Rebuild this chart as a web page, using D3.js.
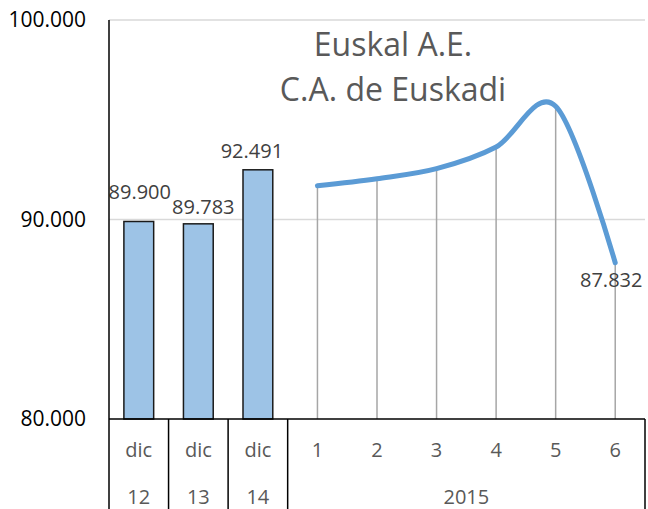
<!DOCTYPE html>
<meta charset="utf-8">
<style>
body { margin: 0; background: #fff; }
svg { font-family: "Open Sans", "Noto Sans", sans-serif; }
.grid line { stroke: #d9d9d9; stroke-width: 1.5; }
.bar { fill: #9dc3e6; stroke: #1a1a1a; stroke-width: 1.5; }
.drop { stroke: #a6a6a6; stroke-width: 1.5; }
.serie { fill: none; stroke: #5b9bd5; stroke-width: 5; stroke-linecap: round; }
.lbl { fill: #404040; font-size: 20px; text-anchor: middle; }
.cat { fill: #595959; font-size: 20px; text-anchor: middle; }
.ytick { fill: #000; font-size: 21px; text-anchor: end; }
.title { fill: #595959; font-size: 32px; text-anchor: middle; }
</style>
<svg width="648" height="509"></svg>
<script src="https://d3js.org/d3.v7.min.js"></script>
<script>

// datos
var barCats = ["dic 12", "dic 13", "dic 14"],
    barVals = [89900, 89783, 92491],
    months = ["1", "2", "3", "4", "5", "6"],
    monthVals = [91693, 92045, 92548, 93633, 95680, 87832],
    yTicks = [80000, 90000, 100000],
    title = ["Euskal A.E.", "C.A. de Euskadi"];

var svg = d3.select("svg"),
    m = {left: 109, right: 645, top: 20, axis: 419, bottom: 509};

var cats = barCats.concat(months);

var x = d3.scaleBand().domain(cats).range([m.left, m.right]),
    y = d3.scaleLinear().domain([80000, 100000]).range([m.axis, m.top]);

var fmtLbl = function(v) { return d3.format(",")(v).replace(",", "."); };

// grid
svg.append("g").attr("class", "grid")
  .selectAll("line").data(yTicks.slice(1)).enter().append("line")
    .attr("x1", m.left).attr("x2", m.right)
    .attr("y1", function(d) { return y(d); })
    .attr("y2", function(d) { return y(d); });

// y labels
svg.append("g").selectAll("text").data(yTicks).enter().append("text")
    .attr("class", "ytick")
    .attr("x", 86)
    .attr("y", function(d) { return y(d); })
    .attr("dy", "0.35em")
    .text(fmtLbl);

// barras
var bw = x.bandwidth() * 0.5;
svg.append("g").selectAll("rect").data(barVals).enter().append("rect")
    .attr("class", "bar")
    .attr("x", function(d, i) { return x(barCats[i]) + (x.bandwidth() - bw) / 2; })
    .attr("y", function(d) { return y(d); })
    .attr("width", bw)
    .attr("height", function(d) { return m.axis - y(d); });

// etiquetas de barras (la primera va algo mas arriba, como en el original)
var barDy = [-22, -10, -12];
svg.append("g").selectAll("text").data(barVals).enter().append("text")
    .attr("class", "lbl")
    .attr("x", function(d, i) { return x(barCats[i]) + x.bandwidth() / 2 + (i == 0 ? 1 : i == 2 ? -6 : 5); })
    .attr("y", function(d, i) { return y(d) + barDy[i]; })
    .text(fmtLbl);

// lineas verticales
var cx = function(i) { return x(months[i]) + x.bandwidth() / 2; };
svg.append("g").selectAll("line").data(monthVals).enter().append("line")
    .attr("class", "drop")
    .attr("x1", function(d, i) { return cx(i); })
    .attr("x2", function(d, i) { return cx(i); })
    .attr("y1", function(d) { return y(d); })
    .attr("y2", m.axis);

// serie suavizada
var line = d3.line()
    .x(function(d, i) { return cx(i); })
    .y(function(d) { return y(d); })
    .curve(d3.curveCatmullRom.alpha(0));
svg.append("path").datum(monthVals).attr("class", "serie").attr("d", line);

// ultima etiqueta
var last = monthVals.length - 1;
svg.append("text").attr("class", "lbl")
    .attr("x", cx(last) - 4)
    .attr("y", y(monthVals[last]) + 24)
    .text(fmtLbl(monthVals[last]));

// titulo
svg.append("g").selectAll("text").data(title).enter().append("text")
    .attr("class", "title")
    .attr("x", 393)
    .attr("y", function(d, i) { return 56 + i * 45; })
    .text(function(d) { return d; });

// eje x y categorias
var ax = svg.append("g").attr("stroke", "#000").attr("stroke-width", 1.5);
ax.append("line").attr("x1", m.left).attr("x2", m.left).attr("y1", m.top).attr("y2", m.bottom);
ax.append("line").attr("x1", m.left).attr("x2", m.right).attr("y1", m.axis).attr("y2", m.axis);
var seps = barCats.slice(1).concat([months[0]]).map(function(c) { return x(c); }).concat([m.right]);
ax.selectAll(".sep").data(seps).enter().append("line")
    .attr("x1", function(d) { return d; }).attr("x2", function(d) { return d; })
    .attr("y1", m.axis).attr("y2", m.bottom);

svg.append("g").selectAll("text").data(cats).enter().append("text")
    .attr("class", "cat")
    .attr("x", function(d) { return x(d) + x.bandwidth() / 2; })
    .attr("y", 457)
    .text(function(d) { return d.split(" ")[0]; });

svg.append("g").selectAll("text").data(barCats).enter().append("text")
    .attr("class", "cat")
    .attr("x", function(d) { return x(d) + x.bandwidth() / 2; })
    .attr("y", 504)
    .text(function(d) { return d.split(" ")[1]; });

svg.append("text").attr("class", "cat")
    .attr("x", (x(months[0]) + m.right) / 2)
    .attr("y", 504)
    .text("2015");

</script>
